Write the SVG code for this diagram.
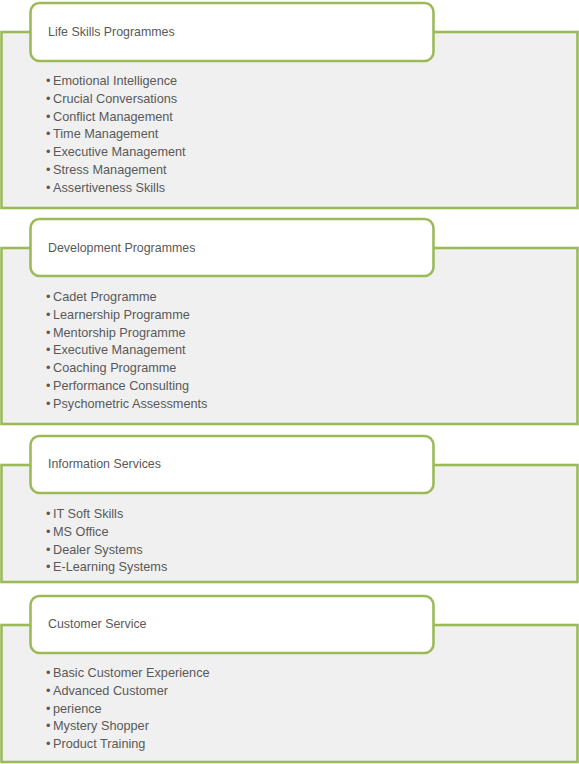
<svg xmlns="http://www.w3.org/2000/svg" width="579" height="764" viewBox="0 0 579 764">
<style>
.panel{fill:#F0F0F0;stroke:#9BBB59;stroke-width:2.6}
.title{fill:#FFFFFF;stroke:#9BBB59;stroke-width:2.6}
text{font-family:"Liberation Sans",Arial,sans-serif;font-size:12.7px;fill:#595959}
text.t{font-size:12.4px}
</style>
<g id="node-life-skills">
<rect class="panel" x="1.5" y="32" width="576" height="176"/>
<rect class="title" x="30.5" y="3" width="403" height="58" rx="9"/>
<text class="t" x="48" y="35.5">Life Skills Programmes</text>
<text y="84.5"><tspan x="46">•</tspan><tspan x="53">Emotional Intelligence</tspan></text>
<text y="102.5"><tspan x="46">•</tspan><tspan x="53">Crucial Conversations</tspan></text>
<text y="120.5"><tspan x="46">•</tspan><tspan x="53">Conflict Management</tspan></text>
<text y="137.5"><tspan x="46">•</tspan><tspan x="53">Time Management</tspan></text>
<text y="155.5"><tspan x="46">•</tspan><tspan x="53">Executive Management</tspan></text>
<text y="173.5"><tspan x="46">•</tspan><tspan x="53">Stress Management</tspan></text>
<text y="191.5"><tspan x="46">•</tspan><tspan x="53">Assertiveness Skills</tspan></text>
</g>
<g id="node-development">
<rect class="panel" x="1.5" y="248" width="576" height="176"/>
<rect class="title" x="30.5" y="219" width="403" height="57" rx="9"/>
<text class="t" x="48" y="251.5">Development Programmes</text>
<text y="300.5"><tspan x="46">•</tspan><tspan x="53">Cadet Programme</tspan></text>
<text y="318.5"><tspan x="46">•</tspan><tspan x="53">Learnership Programme</tspan></text>
<text y="336.5"><tspan x="46">•</tspan><tspan x="53">Mentorship Programme</tspan></text>
<text y="353.5"><tspan x="46">•</tspan><tspan x="53">Executive Management</tspan></text>
<text y="371.5"><tspan x="46">•</tspan><tspan x="53">Coaching Programme</tspan></text>
<text y="389.5"><tspan x="46">•</tspan><tspan x="53">Performance Consulting</tspan></text>
<text y="407.5"><tspan x="46">•</tspan><tspan x="53">Psychometric Assessments</tspan></text>
</g>
<g id="node-information">
<rect class="panel" x="1.5" y="465" width="576" height="117"/>
<rect class="title" x="30.5" y="436" width="403" height="57" rx="9"/>
<text class="t" x="48" y="467.5">Information Services</text>
<text y="517.5"><tspan x="46">•</tspan><tspan x="53">IT Soft Skills</tspan></text>
<text y="535.5"><tspan x="46">•</tspan><tspan x="53">MS Office</tspan></text>
<text y="553.5"><tspan x="46">•</tspan><tspan x="53">Dealer Systems</tspan></text>
<text y="570.5"><tspan x="46">•</tspan><tspan x="53">E-Learning Systems</tspan></text>
</g>
<g id="node-customer">
<rect class="panel" x="1.5" y="625" width="576" height="137"/>
<rect class="title" x="30.5" y="596" width="403" height="57" rx="9"/>
<text class="t" x="48" y="627.5">Customer Service</text>
<text y="676.5"><tspan x="46">•</tspan><tspan x="53">Basic Customer Experience</tspan></text>
<text y="694.5"><tspan x="46">•</tspan><tspan x="53">Advanced Customer</tspan></text>
<text y="712.5"><tspan x="46">•</tspan><tspan x="53">perience</tspan></text>
<text y="729.5"><tspan x="46">•</tspan><tspan x="53">Mystery Shopper</tspan></text>
<text y="747.5"><tspan x="46">•</tspan><tspan x="53">Product Training</tspan></text>
</g>
<g id="connectors"></g>
</svg>
